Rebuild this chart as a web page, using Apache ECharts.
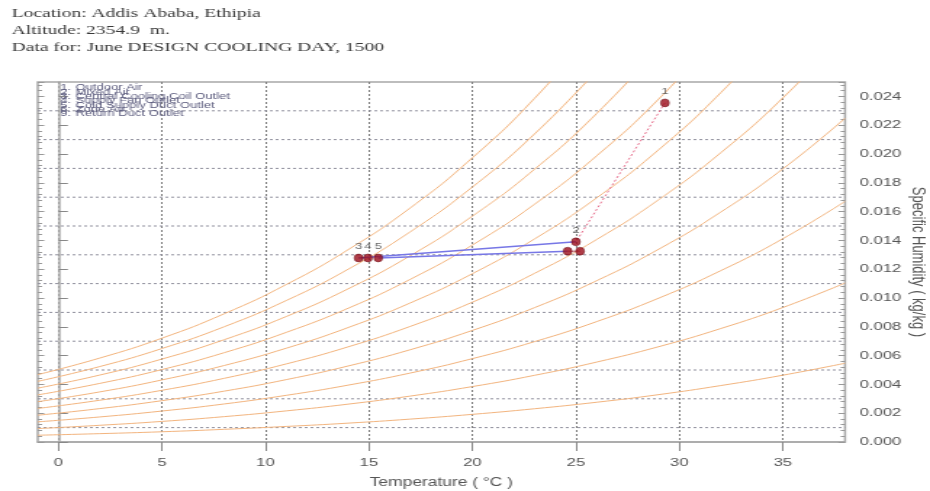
<!DOCTYPE html>
<html>
<head>
<meta charset="utf-8">
<script src="https://cdn.jsdelivr.net/npm/echarts@6/dist/echarts.min.js"></script>
<style>
html,body{margin:0;padding:0;background:#fff;overflow:hidden}
#c{width:641px;height:491px;transform:scaleX(1.4509);transform-origin:0 0}
</style>
</head>
<body>
<div id="c"></div>
<script>
// Header text
const headerLines = ['Location: Addis Ababa, Ethipia', 'Altitude: 2354.9  m.', 'Data for: June DESIGN COOLING DAY, 1500'];
// Legend entries (process states)
const legendNums = ['1.', '2.', '3.', '4.', '5.', '6.', '9.'];
const legendTexts = ['Outdoor Air', 'Mixed Air', 'Central Cooling Coil Outlet', 'Supply Fan Outlet', 'Cold Supply Duct Outlet', 'Zone Air', 'Return Duct Outlet'];

// Axis ticks
const xTicks = [0, 5, 10, 15, 20, 25, 30, 35];
const gridW = [0.001, 0.003, 0.005, 0.007, 0.009, 0.011, 0.013, 0.015, 0.017, 0.019, 0.021, 0.023];

// Relative humidity curves, read at these dry-bulb temperatures (°C)
const temps = [-1, 2, 5, 8, 11, 14, 17, 20, 23, 26, 29, 32, 35, 38];
const rh10  = [0.00047, 0.00058, 0.00071, 0.00088, 0.00108, 0.00131, 0.00159, 0.00192, 0.00231, 0.00276, 0.00329, 0.00392, 0.00464, 0.00547];
const rh20  = [0.00093, 0.00116, 0.00143, 0.00176, 0.00216, 0.00263, 0.00319, 0.00385, 0.00463, 0.00555, 0.00662, 0.00788, 0.00934, 0.01104];
const rh30  = [0.00140, 0.00174, 0.00215, 0.00264, 0.00324, 0.00395, 0.00479, 0.00579, 0.00697, 0.00836, 0.00999, 0.01190, 0.01412, 0.01671];
const rh40  = [0.00186, 0.00232, 0.00287, 0.00353, 0.00433, 0.00528, 0.00641, 0.00775, 0.00933, 0.01120, 0.01339, 0.01597, 0.01897, 0.02248];
const rh50  = [0.00233, 0.00290, 0.00359, 0.00442, 0.00542, 0.00661, 0.00803, 0.00971, 0.01171, 0.01406, 0.01683, 0.02009, 0.02390, 0.02835];
const rh60  = [0.00280, 0.00348, 0.00431, 0.00531, 0.00651, 0.00795, 0.00966, 0.01169, 0.01410, 0.01695, 0.02030, 0.02426, 0.02890, null];
const rh70  = [0.00327, 0.00407, 0.00503, 0.00620, 0.00761, 0.00929, 0.01130, 0.01368, 0.01651, 0.01987, 0.02382, 0.02849, null, null];
const rh80  = [0.00374, 0.00465, 0.00576, 0.00710, 0.00871, 0.01064, 0.01294, 0.01569, 0.01894, 0.02281, 0.02737, null, null, null];
const rh90  = [0.00421, 0.00524, 0.00649, 0.00800, 0.00982, 0.01200, 0.01460, 0.01771, 0.02139, 0.02578, null, null, null, null];
const rh100 = [0.00468, 0.00583, 0.00721, 0.00890, 0.01093, 0.01336, 0.01626, 0.01974, 0.02386, 0.02877, null, null, null, null];
const rhCurves = [rh10, rh20, rh30, rh40, rh50, rh60, rh70, rh80, rh90, rh100];

// Process state points
const stateLabels = ['1', '2', '3', '4', '5', '', ''];
const stateT = [29.3, 25.0, 14.5, 14.95, 15.45, 25.2, 24.6];
const stateW = [0.02355, 0.01390, 0.01278, 0.01278, 0.01278, 0.01325, 0.01325];

// Process paths (indices into state arrays)
const pathOA = [0, 1];
const pathCoil = [1, 2];
const pathSupply = [4, 6];
const pathZone = [6, 5];

function pts(idx) { return idx.map(i => [stateT[i], stateW[i]]); }

const chart = echarts.init(document.getElementById('c'), null, {renderer: 'canvas'});

const series = [];
// horizontal dotted grid lines
gridW.forEach(w => {
  series.push({type: 'line', data: [[-1, w], [38, w]], showSymbol: false, silent: true, z: 1,
    lineStyle: {color: '#8e8e9c', type: [2, 2], width: 1}});
});
rhCurves.forEach((arr, k) => {
  series.push({
    type: 'line', name: 'RH' + (k + 1) * 10, smooth: true, showSymbol: false, silent: true,
    data: temps.map((t, i) => arr[i] == null ? null : [t, arr[i]]).filter(d => d),
    lineStyle: {color: '#f3b57f', width: 1}, z: 2, clip: true
  });
});
series.push({type: 'line', data: pts(pathOA), showSymbol: false, silent: true,
  lineStyle: {color: '#e8708e', width: 1, type: [2, 2]}, z: 4});
series.push({type: 'line', data: pts(pathCoil), showSymbol: false, silent: true,
  lineStyle: {color: '#7777e6', width: 1.5}, z: 4});
series.push({type: 'line', data: pts(pathSupply), showSymbol: false, silent: true,
  lineStyle: {color: '#7777e6', width: 1.5}, z: 4});
series.push({type: 'line', data: pts(pathZone), showSymbol: false, silent: true,
  lineStyle: {color: '#c06070', width: 1}, z: 4});
series.push({
  type: 'scatter', symbolSize: [6, 8], z: 6,
  data: stateT.map((t, i) => ({value: [t, stateW[i]], label: {show: stateLabels[i] !== '', formatter: stateLabels[i]}})),
  itemStyle: {color: '#9b0d1a', borderColor: '#5a0008', borderWidth: 0.5},
  label: {position: 'top', distance: 3, fontSize: 9, color: '#444', fontFamily: 'Liberation Sans'}
});

const graphics = [];
legendTexts.forEach((t, i) => {
  const y = 83.5 + i * 4.3;
  graphics.push({type: 'text', left: 41.5, top: y, z: 10, style: {text: legendNums[i], font: '9px "Liberation Sans"', fill: '#5c5c7e'}});
  graphics.push({type: 'text', left: 52, top: y, z: 10, style: {text: t, font: '9px "Liberation Sans"', fill: '#5c5c7e'}});
});

const yBase = {type: 'value', min: 0, max: 0.025, interval: 0.002};

chart.setOption({
  animation: false,
  backgroundColor: '#fff',
  title: {
    text: headerLines.join('\n'), left: 3, top: 0,
    textStyle: {fontFamily: 'Liberation Serif', fontSize: 13.5, fontWeight: 'normal', color: '#3a3a3a', lineHeight: 17}
  },
  grid: {left: 26, right: 58.6, top: 82, bottom: 49, show: true, borderColor: '#a8a8a8', borderWidth: 1.5,
    containLabel: false, outerBoundsMode: 'none'},
  xAxis: {
    type: 'value', min: -1, max: 38,
    axisLine: {show: true, lineStyle: {color: '#a8a8a8', width: 1.5}},
    axisTick: {show: true, length: 9, customValues: xTicks, lineStyle: {color: '#888'}},
    axisLabel: {customValues: xTicks, color: '#555', fontSize: 11.5, margin: 15, fontFamily: 'Liberation Sans'},
    splitLine: {show: true, lineStyle: {color: '#7d7d7d', type: [2, 2], width: 1}},
    name: 'Temperature ( °C )', nameLocation: 'middle', nameGap: 35,
    nameTextStyle: {color: '#555', fontSize: 12, fontFamily: 'Liberation Sans'}
  },
  yAxis: [
    Object.assign({}, yBase, {
      position: 'right',
      axisLine: {show: true, lineStyle: {color: '#a8a8a8', width: 1.5}},
      axisTick: {show: true, length: 6.5, lineStyle: {color: '#888'}},
      axisLabel: {showMaxLabel: false, color: '#555', fontSize: 11.5, margin: 10, fontFamily: 'Liberation Sans', formatter: v => v.toFixed(3)},
      splitLine: {show: false},
      name: 'Specific Humidity ( kg/kg )', nameLocation: 'middle', nameRotate: -90, nameGap: 44,
      nameMoveOverlap: false,
      nameTextStyle: {color: '#555', fontSize: 13, fontFamily: 'Liberation Sans'}
    }),
    Object.assign({}, yBase, {
      position: 'right', axisLine: {show: false},
      axisTick: {show: true, inside: true, length: 4.5, lineStyle: {color: '#999'}},
      minorTick: {show: true, splitNumber: 5, length: 3, lineStyle: {color: '#999'}},
      axisLabel: {show: false}, splitLine: {show: false}
    }),
    Object.assign({}, yBase, {
      position: 'left', axisLine: {show: false},
      axisTick: {show: true, inside: true, length: 4.5, lineStyle: {color: '#999'}},
      minorTick: {show: true, splitNumber: 5, length: 3, lineStyle: {color: '#999'}},
      axisLabel: {show: false}, splitLine: {show: false}
    })
  ],
  graphic: graphics,
  series: series
});
</script>
</body>
</html>
